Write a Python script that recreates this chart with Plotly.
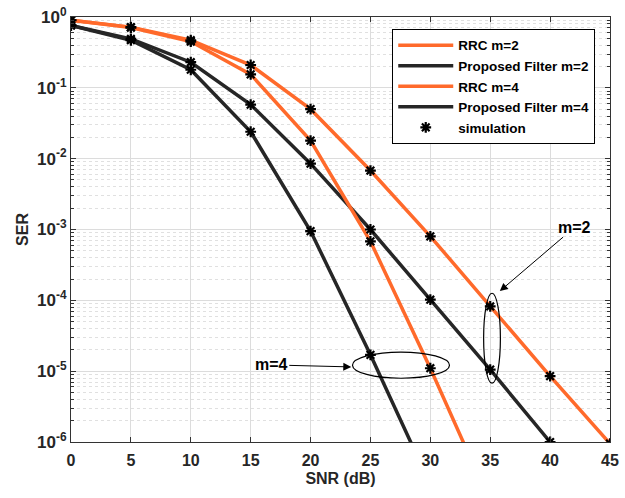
import numpy as np
import plotly.graph_objects as go

snr = [0, 5, 10, 15, 20, 25, 30, 35, 40, 45]
rrc_m2 = [0.9, 0.72, 0.47, 0.21, 0.05, 0.0068, 8.0e-4, 8.2e-5, 8.5e-6, 9.5e-7]
prop_m2 = [0.76, 0.49, 0.23, 0.058, 0.0085, 1.0e-3, 1.02e-4, 1.05e-5, 1.0e-6]
rrc_m4 = [0.9, 0.71, 0.45, 0.155, 0.018, 6.8e-4, 1.1e-5, 1.4e-7]
prop_m4 = [0.76, 0.47, 0.18, 0.024, 9.5e-4, 1.7e-5, 2.5e-7]

orange = "#FF6A2B"
dark = "#262626"
font = "Liberation Sans"

series = [
    ("RRC m=2", rrc_m2, orange),
    ("Proposed Filter m=2", prop_m2, dark),
    ("RRC m=4", rrc_m4, orange),
    ("Proposed Filter m=4", prop_m4, dark),
]

fig = go.Figure()
for name, ys, col in series:
    fig.add_trace(go.Scatter(x=snr[:len(ys)], y=ys, mode="lines",
                             name="<b>%s</b>" % name,
                             line=dict(color=col, width=3.5)))

sx, sy = [], []
for _, ys, _ in series:
    for x, y in zip(snr, ys):
        if y >= 9e-7:
            sx.append(x)
            sy.append(y)
fig.add_trace(go.Scatter(x=sx, y=sy, mode="markers", name="<b>simulation</b>",
                         marker=dict(symbol="asterisk-open", size=9, color="black",
                                     line=dict(color="black", width=2.2))))

def py(v):
    return (np.log10(v) + 6) / 6.0

# ellipses (paper y coordinates from log values)
fig.add_shape(type="circle", xref="x", yref="paper",
              x0=34.45, x1=35.85, y0=py(10 ** -5.17), y1=py(10 ** -3.9),
              line=dict(color="black", width=1.2))
fig.add_shape(type="circle", xref="x", yref="paper",
              x0=23.5, x1=31.6, y0=py(10 ** -5.1), y1=py(10 ** -4.73),
              line=dict(color="black", width=1.2))

fig.add_annotation(x=35.8, y=py(10 ** -3.87), xref="x", yref="paper",
                   ax=75, ay=-64, text="<b>m=2</b>", showarrow=True,
                   arrowhead=2, arrowsize=1.6, arrowwidth=1, arrowcolor="black",
                   font=dict(family=font, size=16, color="black"))
fig.add_annotation(x=23.4, y=py(10 ** -4.94), xref="x", yref="paper",
                   ax=-80, ay=-2, text="<b>m=4</b>", showarrow=True,
                   arrowhead=2, arrowsize=1.6, arrowwidth=1, arrowcolor="black",
                   font=dict(family=font, size=16, color="black"))

yt = [10.0 ** e for e in range(-6, 1)]
ytxt = ["<b>10<sup>%d</sup></b>" % e for e in range(-6, 1)]
minor_vals = [k * 10.0 ** e for e in range(-6, 0) for k in range(2, 10)]

fig.update_layout(
    width=625, height=498,
    margin=dict(l=71, r=15, t=17, b=56),
    paper_bgcolor="white", plot_bgcolor="white",
    font=dict(family=font, size=16, color="#262626"),
    showlegend=True,
    legend=dict(x=0.596, y=0.972, xanchor="left", yanchor="top",
                bgcolor="white", bordercolor="black", borderwidth=1,
                font=dict(family=font, size=13.5, color="black"),
                tracegroupgap=0, itemwidth=55),
)
fig.update_xaxes(range=[0, 45], tickvals=snr,
                 ticktext=["<b>%d</b>" % v for v in snr],
                 tickfont=dict(family=font, size=16), ticklabelstandoff=4,
                 title=dict(text="<b>SNR (dB)</b>", standoff=4,
                            font=dict(family=font, size=16)),
                 showgrid=True, gridcolor="#DCDCDC", gridwidth=1, automargin=False,
                 showline=True, linecolor="#333333", linewidth=1, mirror="ticks",
                 ticks="inside", ticklen=5, tickcolor="#333333", zeroline=False)
fig.update_yaxes(type="log", range=[-6, 0], tickvals=yt, ticktext=ytxt,
                 tickfont=dict(family=font, size=17),
                 title=dict(text="<b>SER</b>", standoff=4,
                            font=dict(family=font, size=16)),
                 showgrid=True, gridcolor="#DCDCDC", gridwidth=1, automargin=False,
                 showline=True, linecolor="#333333", linewidth=1, mirror="ticks",
                 ticks="inside", ticklen=5, tickcolor="#333333", zeroline=False,
                 minor=dict(tickvals=minor_vals, showgrid=True, gridcolor="#E0E0E0",
                            griddash="dot", ticks="inside", ticklen=3,
                            tickcolor="#333333"))

fig.write_html("out.html")
